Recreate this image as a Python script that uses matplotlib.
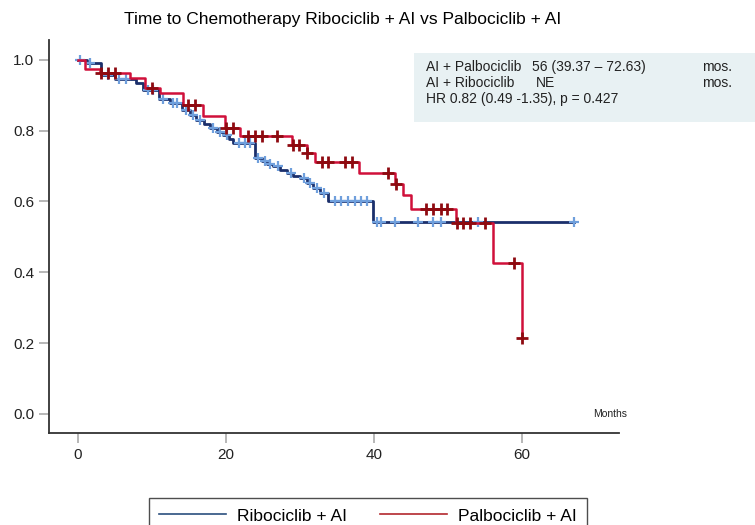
import numpy as np
import matplotlib.pyplot as plt

plt.rcParams['font.family'] = ['Liberation Sans', 'DejaVu Sans']

# Ribociclib + AI (blue) - step drops
t_ribo = [0, 1.2, 3.1, 5.0, 7.9, 8.8, 10.9, 12.5, 14.0, 15.2, 16.0, 17.0, 17.8, 18.8, 19.6, 20.4,
          21.0, 23.9, 24.8, 25.6, 26.4, 27.3, 28.2, 29.1, 30.0, 31.0, 31.8, 32.7, 33.8, 39.8, 67.0]
s_ribo = [1.0, 0.99, 0.958, 0.945, 0.934, 0.915, 0.89, 0.878, 0.858, 0.845, 0.83, 0.818, 0.807, 0.797,
          0.788, 0.776, 0.765, 0.722, 0.714, 0.707, 0.699, 0.689, 0.68, 0.673, 0.666, 0.652, 0.637,
          0.623, 0.60, 0.543, 0.543]
c_ribo = [0.3, 1.6, 4.0, 5.6, 6.5, 9.5, 10.2, 11.5, 12.9, 13.4, 14.6, 15.6, 16.5, 18.3, 19.2, 20.1,
          21.8, 22.5, 23.2, 24.3, 25.2, 26.0, 27.0, 28.8, 30.5, 31.4, 32.3, 33.3, 34.7, 35.6, 36.5,
          37.4, 38.3, 39.1, 40.4, 41.0, 42.8, 46.0, 48.0, 49.0, 54.1, 67.0]

# Palbociclib + AI (red)
t_palbo = [0, 0.95, 2.97, 7.0, 9.05, 11.1, 14.2, 16.9, 19.9, 21.9, 28.9, 30.9, 32.0, 37.9, 42.8,
           43.9, 45.0, 51.1, 56.0, 60.0]
s_palbo = [1.0, 0.974, 0.962, 0.948, 0.92, 0.906, 0.873, 0.84, 0.807, 0.785, 0.76, 0.736, 0.711,
           0.68, 0.65, 0.619, 0.578, 0.539, 0.427, 0.215]
c_palbo = [3.1, 4.0, 5.0, 10.0, 14.9, 15.8, 20.0, 21.0, 23.0, 23.9, 24.8, 26.9, 29.0, 29.9, 31.0,
           32.9, 33.8, 36.1, 37.0, 41.9, 43.0, 47.0, 48.0, 49.0, 49.9, 51.2, 52.0, 52.9, 55.0, 58.9, 60.0]


def at(times, surv, pts):
    idx = np.searchsorted(times, pts, side='right') - 1
    return np.array(surv)[idx]


fig = plt.figure(figsize=(7.55, 5.25), dpi=100)
ax = fig.add_axes([0.065, 0.175, 0.755, 0.749])

ax.step(t_ribo, s_ribo, where='post', color='#1b2f6b', lw=2.0, zorder=2)
ax.plot(c_ribo, at(t_ribo, s_ribo, c_ribo), '+', color='#6f9fdc', ms=7, mew=1.6, zorder=3)
ax.step(t_palbo, s_palbo, where='post', color='#d0103a', lw=1.8, zorder=4)
ax.plot(c_palbo, at(t_palbo, s_palbo, c_palbo), '+', color='#8e0a10', ms=8, mew=2.0, zorder=5)

ax.set_xlim(-3.9, 73.1)
ax.set_ylim(-0.054, 1.056)
ax.set_xticks([0, 20, 40, 60])
ax.set_yticks([0.0, 0.2, 0.4, 0.6, 0.8, 1.0])
ax.set_yticklabels(['0.0', '0.2', '0.4', '0.6', '0.8', '1.0'])
ax.spines['top'].set_visible(False)
ax.spines['right'].set_visible(False)
for sp in ['left', 'bottom']:
    ax.spines[sp].set_color('#333333')
    ax.spines[sp].set_linewidth(1.3)
ax.tick_params(axis='both', colors='#aaaaaa', labelcolor='#222222', labelsize=11, length=7, width=1.2)

ax.text(71.9, 0.0, 'Months', fontsize=7.5, ha='center', va='center', color='#222222')

fig.text(0.454, 0.962, 'Time to Chemotherapy Ribociclib + AI vs Palbociclib + AI',
         fontsize=12.5, ha='center', va='center')

# info box
fig.patches.append(plt.Rectangle((414/755, 1-122/525), 341/755, 69/525, transform=fig.transFigure,
                                 facecolor='#e8f1f3', edgecolor='none', zorder=0))
rows = [('AI + Palbociclib', '56 (39.37 \u2013 72.63)', 'mos.', 532),
        ('AI + Ribociclib', 'NE', 'mos.', 536)]
for i, (a, b, c, xb) in enumerate(rows):
    y = 1 - (67 + 16*i)/525
    fig.text(426/755, y, a, fontsize=10, va='center', color='#222222')
    fig.text(xb/755, y, b, fontsize=10, va='center', color='#222222')
    fig.text(702/755, y, c, fontsize=10, va='center', color='#222222')
fig.text(426/755, 1 - 99/525, 'HR 0.82 (0.49 -1.35), p = 0.427', fontsize=10, va='center', color='#222222')

h1, = ax.plot([], [], color='#2b4f7e', lw=1.2)
h2, = ax.plot([], [], color='#b3282d', lw=1.2)
leg = fig.legend([h1, h2], ['Ribociclib + AI', 'Palbociclib + AI'], loc='upper center',
                 bbox_to_anchor=(368/755, 1 - 498/525), ncol=2, fontsize=12.5, frameon=True,
                 fancybox=False, edgecolor='#222222', handlelength=3.86, handletextpad=0.63,
                 columnspacing=1.9, borderpad=0.6, borderaxespad=0)
leg.get_frame().set_linewidth(1.0)

plt.savefig('out.png', dpi=100)
